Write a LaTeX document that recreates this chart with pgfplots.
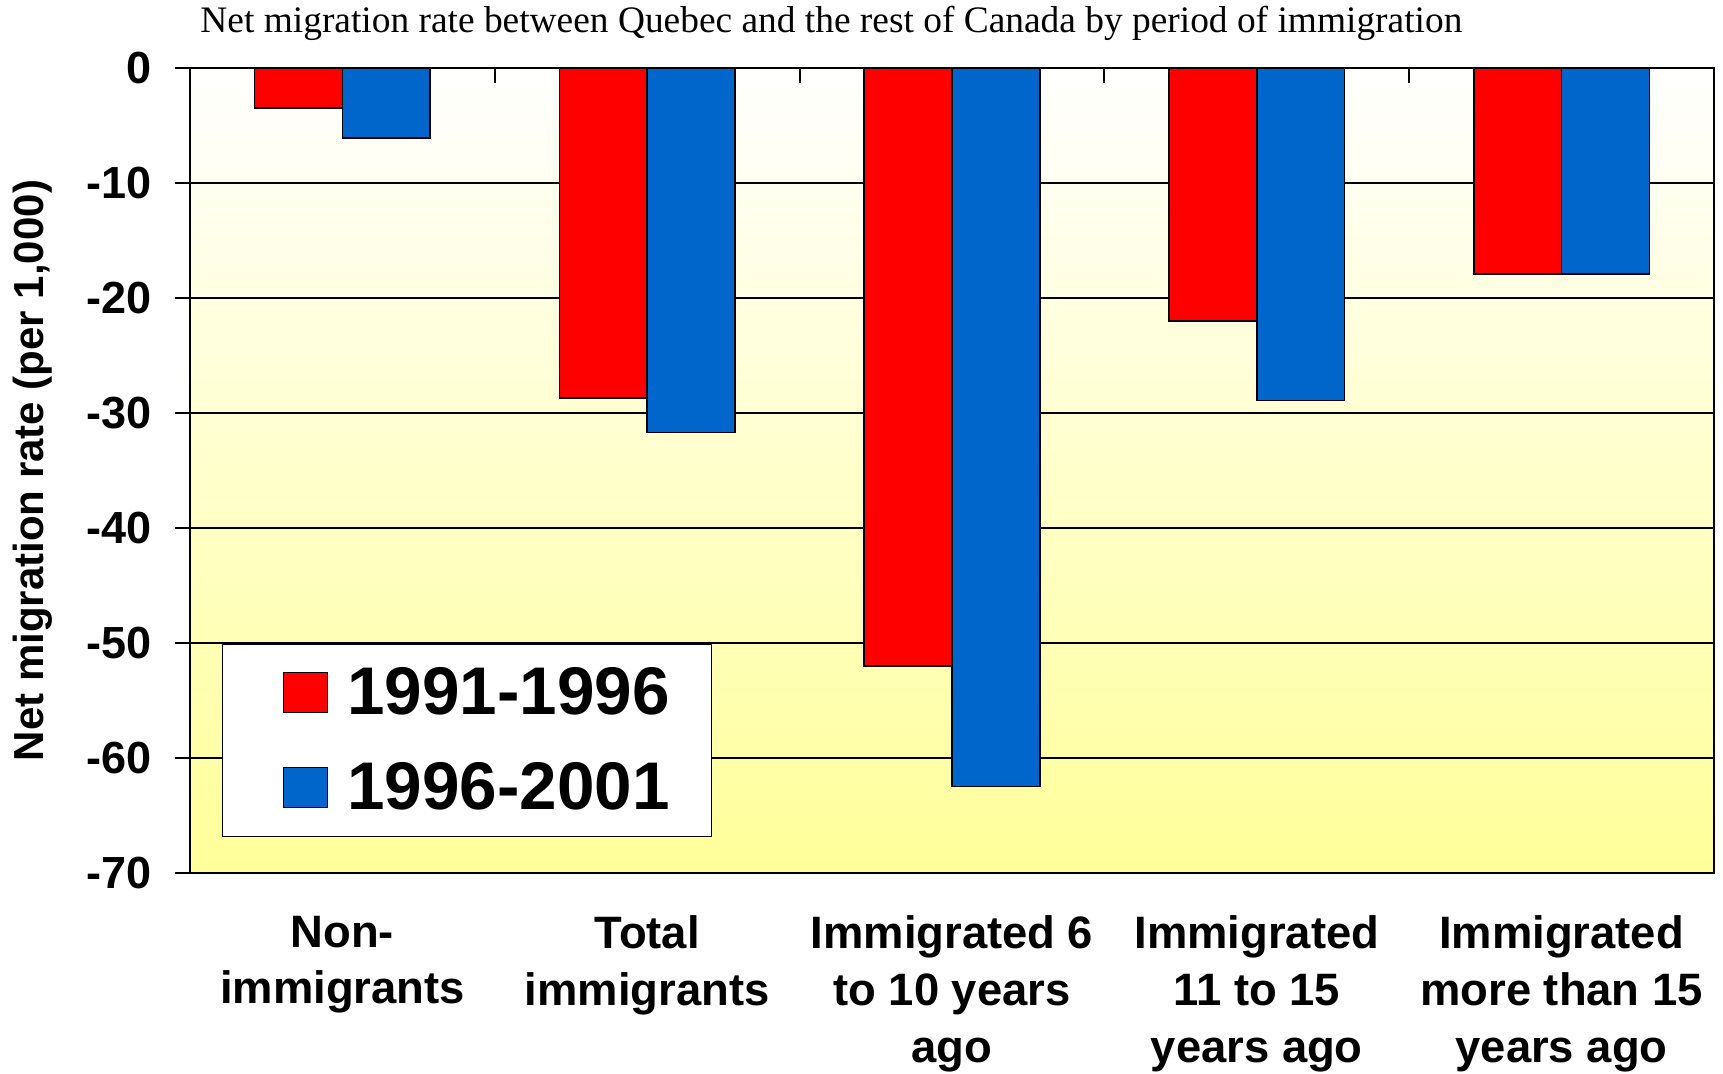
\documentclass[border=0pt]{standalone}
\usepackage{pgfplots}
\pgfplotsset{compat=1.18}
\usepackage{fontspec}
\setmainfont{Liberation Sans}
\newfontfamily\titlefont{Liberation Serif}
\definecolor{barred}{RGB}{255,0,0}
\definecolor{barblue}{RGB}{0,102,204}
\definecolor{bgyellow}{RGB}{255,255,153}
\pgfplotsset{sqlegend/.style={legend image code/.code={%
    \path (0pt,0pt);
    \draw[##1] (12pt,-10pt) rectangle (34pt,10pt);}}}

\begin{document}
\begin{tikzpicture}
\begin{axis}[
    scale only axis,
    width=762pt, height=402.5pt,
    ybar=0pt, bar width=0.288,
    xmin=-0.5, xmax=4.5,
    ymin=-70, ymax=0,
    axis background/.style={shade, top color=white, bottom color=bgyellow},
    axis line style={black, line width=1pt},
    % top ticks at the category boundaries, labels below
    xtick={0.5,1.5,2.5,3.5},
    xticklabels={},
    xtick pos=upper,
    xtick align=inside,
    xticklabel pos=lower,
    major x tick style={black, line width=1pt},
    extra x ticks={0,1,2,3,4},
    extra x tick labels={Non-\\immigrants, Total\\immigrants, Immigrated 6\\to 10 years\\ago, Immigrated\\11 to 15\\years ago, Immigrated\\more than 15\\years ago},
    extra x tick style={major tick length=0pt, grid=none},
    xticklabel style={align=center, anchor=north, yshift=-18pt,
        font=\fontsize{22.7}{28.3}\selectfont\bfseries},
    ytick={-70,-60,-50,-40,-30,-20,-10,0},
    yticklabels={-70,-60,-50,-40,-30,-20,-10,0},
    ytick pos=left,
    ytick align=outside,
    major tick length=7.5pt,
    major y tick style={black, line width=1pt},
    yticklabel style={font=\fontsize{22.5}{22.5}\selectfont\bfseries, xshift=-8pt},
    ymajorgrids,
    major y grid style={black, line width=0.8pt},
    ylabel={Net migration rate (per 1,000)},
    every axis y label/.style={at={(rel axis cs:0,0.5)}, rotate=90, anchor=center,
        yshift=78.5pt, font=\fontsize{21}{21}\selectfont\bfseries},
    title={\titlefont Net migration rate between Quebec and the rest of Canada by period of immigration},
    every axis title/.style={at={(rel axis cs:0.0066,1)}, anchor=base west,
        yshift=17.5pt, inner sep=0pt, font=\fontsize{18.7}{18.7}\selectfont},
    legend style={at={(rel axis cs:0.021,0.0447)}, anchor=south west,
        draw=black, line width=0.75pt, fill=white,
        font=\fontsize{33.7}{33.7}\selectfont\bfseries,
        inner xsep=18pt, inner ysep=8.75pt, row sep=16.5pt, column sep=6.5pt,
        nodes={inner sep=3pt, anchor=west}},
    legend cell align=left,
    clip=false,
]
\addplot[fill=barred, draw=black, line width=0.75pt, sqlegend]
    coordinates {(0,-3.5) (1,-28.7) (2,-52.0) (3,-22.0) (4,-17.9)};
\addplot[fill=barblue, draw=black, line width=0.75pt, sqlegend]
    coordinates {(0,-6.1) (1,-31.7) (2,-62.5) (3,-28.9) (4,-17.9)};
\legend{1991-1996, 1996-2001}
\coordinate (O) at (rel axis cs:0,1);
\end{axis}
\pgfresetboundingbox
\path ([shift={(-95pt,34pt)}]O) rectangle ([shift={(766.5pt,-503pt)}]O);
\end{tikzpicture}
\end{document}
